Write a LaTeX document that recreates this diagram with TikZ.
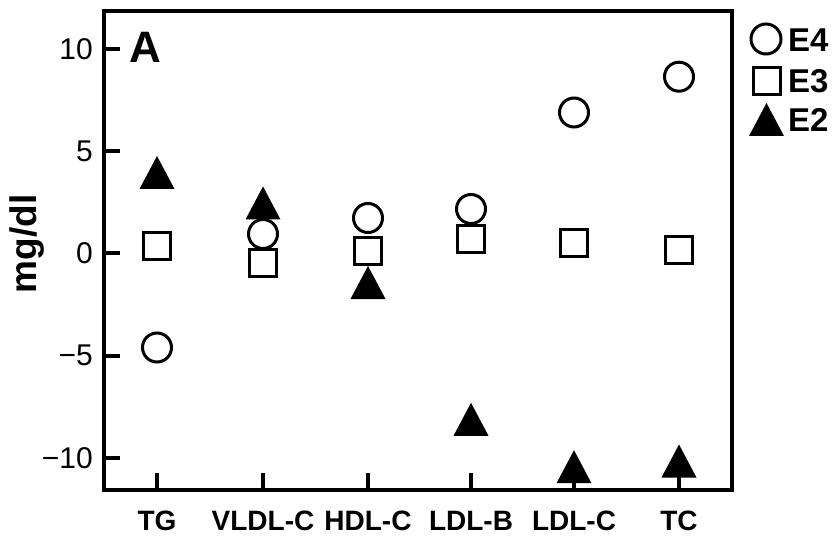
\documentclass[tikz,border=0pt]{standalone}
\usepackage{fontspec}
\setmainfont{Liberation Sans}
\begin{document}
\begin{tikzpicture}[x=1pt,y=-1pt,
  spine/.style={line width=4pt},
  tickln/.style={line width=4pt},
  ticklab/.style={font=\fontsize{30}{31}\selectfont, anchor=east, inner sep=0pt},
  catlab/.style={font=\bfseries\fontsize{28}{30}\selectfont, anchor=center, inner sep=0pt},
  legtxt/.style={font=\bfseries\fontsize{33}{34}\selectfont, anchor=west, inner sep=0pt},
  circmark/.style={circle, draw, line width=3pt, fill=white, minimum size=29pt, inner sep=0pt},
  sqmark/.style={rectangle, draw, line width=3pt, fill=white, minimum size=27pt, inner sep=0pt},
  pics/trimark/.style={code={\fill (-17.5,16.5) -- (17.5,16.5) -- (0,-16.5) -- cycle;}}
]
\useasboundingbox (0,0) rectangle (835,537);
% axes frame
\draw[spine] (104,11.5) rectangle (731.7,489.7);
% y ticks
\foreach \yy/\lab in {49/10, 151.5/5, 253.5/0, 355.8/{−5}, 458/{−10}} {
  \draw[tickln] (104,\yy) -- (120,\yy);
  \node[ticklab] at (93,\yy) {\lab};
}
% x ticks and labels
\foreach \xx/\lab in {157/TG, 263/VLDL-C, 368/HDL-C, 471/LDL-B, 574/LDL-C, 679/TC} {
  \draw[tickln] (\xx,489.7) -- (\xx,473);
  \node[catlab] at (\xx,520.5) {\lab};
}
% axis title and panel letter
\node[font=\bfseries\fontsize{37}{38}\selectfont, rotate=90, inner sep=0pt] (ylab) at (27,244) {mg/dl};
\node[font=\bfseries\fontsize{44}{46}\selectfont, inner sep=0pt] (panel) at (145,47) {A};
% E2 triangles
\foreach \xx/\yy in {157/172.5, 263/203, 368/282.5, 471/419.3, 574/466.7, 679/461} {
  \pic at (\xx,\yy) {trimark};
}
% E3 squares
\foreach \xx/\yy in {157/246, 263/263, 368/251.5, 471/239.5, 574/243.5, 679/250} {
  \node[sqmark] at (\xx,\yy) {};
}
% E4 circles
\foreach \xx/\yy in {157/347.5, 263/234, 368/218, 471/209, 574/112.5, 679/76.7} {
  \node[circmark] at (\xx,\yy) {};
}
% legend
\node[circmark, minimum size=30pt] (l4) at (766,39) {};
\node[sqmark, minimum size=27pt] (l3) at (766.5,81.5) {};
\pic at (766.5,119.5) {trimark};
\node[legtxt] (t4) at (788,40) {E4};
\node[legtxt] (t3) at (788,81.5) {E3};
\node[legtxt] (t2) at (788,120) {E2};
\end{tikzpicture}
\end{document}
